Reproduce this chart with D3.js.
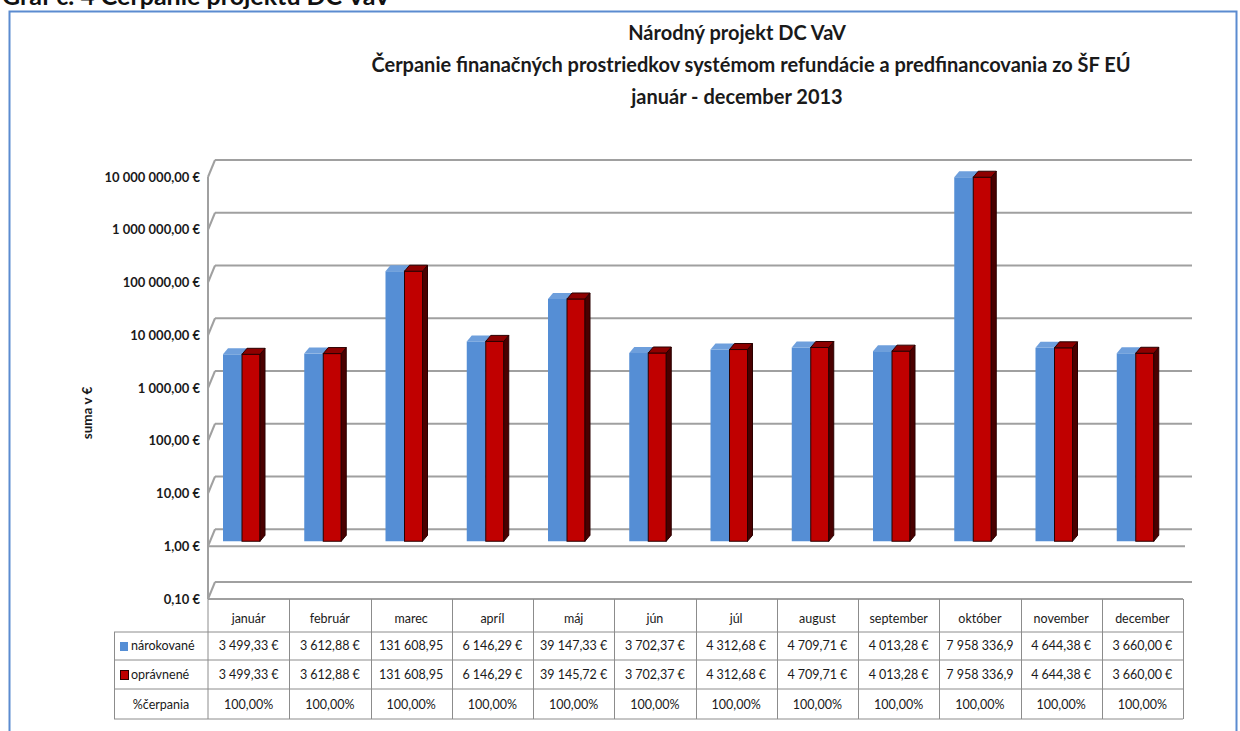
<!DOCTYPE html>
<html>
<head>
<meta charset="utf-8">
<script src="https://cdnjs.cloudflare.com/ajax/libs/d3/7.8.5/d3.min.js"></script>
<style>
body { margin: 0; background: #fff; }
svg { display: block; font-family: Lato, "Open Sans", sans-serif; }
</style>
</head>
<body>
<svg id="svg1" width="1240" height="731"></svg>
<script>
// data
var months = ['január', 'február', 'marec', 'apríl', 'máj', 'jún', 'júl', 'august', 'september', 'október', 'november', 'december'];
var claimed = [3499.33, 3612.88, 131608.95, 6146.29, 39147.33, 3702.37, 4312.68, 4709.71, 4013.28, 7958336.9, 4644.38, 3660.00];
var eligible = [3499.33, 3612.88, 131608.95, 6146.29, 39145.72, 3702.37, 4312.68, 4709.71, 4013.28, 7958336.9, 4644.38, 3660.00];
var claimedLabels = ['3 499,33 €', '3 612,88 €', '131 608,95', '6 146,29 €', '39 147,33 €', '3 702,37 €', '4 312,68 €', '4 709,71 €', '4 013,28 €', '7 958 336,9', '4 644,38 €', '3 660,00 €'];
var eligibleLabels = ['3 499,33 €', '3 612,88 €', '131 608,95', '6 146,29 €', '39 145,72 €', '3 702,37 €', '4 312,68 €', '4 709,71 €', '4 013,28 €', '7 958 336,9', '4 644,38 €', '3 660,00 €'];
var yTicks = [0.1, 1, 10, 100, 1000, 10000, 100000, 1000000, 10000000];
var yTickLabels = ['0,10 €', '1,00 €', '10,00 €', '100,00 €', '1 000,00 €', '10 000,00 €', '100 000,00 €', '1 000 000,00 €', '10 000 000,00 €'];
var seriesNames = ['nárokované', 'oprávnené'];
var titleLines = ['Národný projekt DC VaV', 'Čerpanie finanačných prostriedkov systémom refundácie a predfinancovania zo ŠF EÚ', 'január - december 2013'];

var svg = d3.select('#svg1');

var y = d3.scaleLog().domain([0.1, 10000000]).range([599, 177]);
var x = d3.scaleBand().domain(months).range([208, 1183]);

var wallDx = 7, wallDy = -17;     // depth of the back wall
var barDx = 5, barDy = -6;        // depth of a single bar
var barShift = -5;                // bars sit a bit behind the front edge
var gridColor = '#a0a0a0';
var tableColor = '#8c8c8c';

// heading cut off at the very top
svg.append('text')
    .attr('x', 2)
    .attr('y', 5)
    .attr('font-size', 25)
    .attr('font-weight', 'bold')
    .attr('fill', '#111')
    .text('Graf č. 4 Čerpanie projektu DC VaV');

// blue frame
svg.append('rect')
    .attr('x', 9.5)
    .attr('y', 11.5)
    .attr('width', 1227)
    .attr('height', 740)
    .attr('fill', 'none')
    .attr('stroke', '#5b8bd0')
    .attr('stroke-width', 2);

// title
svg.selectAll('.title')
    .data(titleLines)
    .enter()
    .append('text')
    .attr('class', 'title')
    .attr('x', function(d, i) { return i == 1 ? 751 : 737; })
    .attr('y', function(d, i) { return 40 + i * 32; })
    .attr('text-anchor', 'middle')
    .attr('font-size', 20)
    .attr('font-weight', 'bold')
    .attr('fill', '#1a1a1a')
    .text(function(d) { return d; });

// back wall gridlines and the slanted side wall lines
var grid = svg.append('g');
grid.selectAll('.gline')
    .data(yTicks)
    .enter()
    .append('line')
    .attr('x1', 208 + wallDx)
    .attr('x2', 1192)
    .attr('y1', function(d) { return y(d) + wallDy; })
    .attr('y2', function(d) { return y(d) + wallDy; })
    .attr('stroke', gridColor)
    .attr('stroke-width', 2);

grid.selectAll('.slant')
    .data(yTicks)
    .enter()
    .append('line')
    .attr('x1', 208)
    .attr('y1', function(d) { return y(d); })
    .attr('x2', 208 + wallDx)
    .attr('y2', function(d) { return y(d) + wallDy; })
    .attr('stroke', gridColor)
    .attr('stroke-width', 2);

// left edge of the side wall
grid.append('line')
    .attr('x1', 208).attr('x2', 208)
    .attr('y1', y(10000000)).attr('y2', 599)
    .attr('stroke', gridColor)
    .attr('stroke-width', 2);

// front edge of the floor
grid.append('line')
    .attr('x1', 208).attr('x2', 1185)
    .attr('y1', y(1)).attr('y2', y(1))
    .attr('stroke', gridColor)
    .attr('stroke-width', 2);

// y axis labels
svg.selectAll('.ylab')
    .data(yTicks)
    .enter()
    .append('text')
    .attr('class', 'ylab')
    .attr('x', 200)
    .attr('y', function(d) { return y(d) + 4.5; })
    .attr('text-anchor', 'end')
    .attr('font-size', 13)
    .attr('font-weight', 'bold')
    .attr('fill', '#1a1a1a')
    .text(function(d, i) { return yTickLabels[i]; });

svg.append('text')
    .attr('transform', 'translate(92,413) rotate(-90)')
    .attr('text-anchor', 'middle')
    .attr('font-size', 13.5)
    .attr('font-weight', 'bold')
    .attr('fill', '#1a1a1a')
    .text('suma v €');

// 3D bars
function drawBar(g, x0, w, v, c) {
    var top = y(v) + barShift;
    var bottom = y(1) + barShift;
    var x1 = x0 + w;
    var sw = c.stroke == 'none' ? 0 : 1;
    g.append('rect')
        .attr('x', x0).attr('y', top)
        .attr('width', w).attr('height', bottom - top)
        .attr('fill', c.face)
        .attr('stroke', c.stroke)
        .attr('stroke-width', sw);
    g.append('path')
        .attr('d', 'M' + x1 + ',' + top + 'L' + (x1 + barDx) + ',' + (top + barDy) +
            'L' + (x1 + barDx) + ',' + (bottom + barDy) + 'L' + x1 + ',' + bottom + 'Z')
        .attr('fill', c.side)
        .attr('stroke', c.stroke)
        .attr('stroke-width', sw);
    g.append('path')
        .attr('d', 'M' + x0 + ',' + top + 'L' + (x0 + barDx) + ',' + (top + barDy) +
            'L' + (x1 + barDx) + ',' + (top + barDy) + 'L' + x1 + ',' + top + 'Z')
        .attr('fill', c.top)
        .attr('stroke', c.stroke)
        .attr('stroke-width', sw);
}

var blueStyle = {face: '#558ed5', side: '#3f6fb0', top: '#6e9fdc', stroke: 'none'};
var redStyle = {face: '#c00000', side: '#4a0000', top: '#8e0000', stroke: '#2a0000'};

var bars = svg.append('g');
months.forEach(function(m, i) {
    var left = x(m) + 15;
    drawBar(bars, left, 19, claimed[i], blueStyle);
    drawBar(bars, left + 19, 18, eligible[i], redStyle);
});

// data table
var table = svg.append('g');
var rowY = [599, 632, 660, 689, 719];

// horizontal lines
table.append('line')
    .attr('x1', 208).attr('x2', 1183)
    .attr('y1', 599).attr('y2', 599)
    .attr('stroke', gridColor).attr('stroke-width', 2);
table.selectAll('.hline')
    .data(rowY.slice(1))
    .enter()
    .append('line')
    .attr('x1', 114).attr('x2', 1183)
    .attr('y1', function(d) { return d; })
    .attr('y2', function(d) { return d; })
    .attr('stroke', tableColor);

// vertical lines
table.selectAll('.vline')
    .data(months.slice(1))
    .enter()
    .append('line')
    .attr('x1', function(d) { return Math.round(x(d)) + 0.5; })
    .attr('x2', function(d) { return Math.round(x(d)) + 0.5; })
    .attr('y1', 599).attr('y2', 719)
    .attr('stroke', tableColor);
table.append('line')
    .attr('x1', 1183.5).attr('x2', 1183.5)
    .attr('y1', 599).attr('y2', 719)
    .attr('stroke', tableColor);
table.append('line')
    .attr('x1', 208).attr('x2', 208)
    .attr('y1', 599).attr('y2', 719)
    .attr('stroke', tableColor);
table.append('line')
    .attr('x1', 114.5).attr('x2', 114.5)
    .attr('y1', 632).attr('y2', 719)
    .attr('stroke', tableColor);

function cellText(sel, yPos) {
    sel.attr('x', function(d, i) { return x(months[i]) + x.bandwidth() / 2; })
        .attr('y', yPos)
        .attr('text-anchor', 'middle')
        .attr('font-size', 12.5)
        .attr('fill', '#1a1a1a');
}

table.selectAll('.mname')
    .data(months)
    .enter()
    .append('text')
    .call(cellText, 623)
    .text(function(d) { return d; });

table.selectAll('.claimed')
    .data(claimedLabels)
    .enter()
    .append('text')
    .call(cellText, 650)
    .text(function(d) { return d; });

table.selectAll('.eligible')
    .data(eligibleLabels)
    .enter()
    .append('text')
    .call(cellText, 679)
    .text(function(d) { return d; });

var pct = d3.format('.2%');
table.selectAll('.pct')
    .data(eligible)
    .enter()
    .append('text')
    .call(cellText, 709)
    .text(function(d, i) { return pct(d / claimed[i]).replace('.', ','); });

// legend keys in the row headers
table.append('rect')
    .attr('x', 120).attr('y', 642)
    .attr('width', 8).attr('height', 9)
    .attr('fill', blueStyle.face);
table.append('rect')
    .attr('x', 120.5).attr('y', 670.5)
    .attr('width', 8).attr('height', 9)
    .attr('fill', redStyle.face)
    .attr('stroke', redStyle.stroke);

table.selectAll('.rowlab')
    .data(seriesNames)
    .enter()
    .append('text')
    .attr('x', 131)
    .attr('y', function(d, i) { return 650 + i * 29; })
    .attr('font-size', 12.5)
    .attr('fill', '#1a1a1a')
    .text(function(d) { return d; });

table.append('text')
    .attr('x', 161)
    .attr('y', 709)
    .attr('text-anchor', 'middle')
    .attr('font-size', 12.5)
    .attr('fill', '#1a1a1a')
    .text('%čerpania');
</script>
</body>
</html>
